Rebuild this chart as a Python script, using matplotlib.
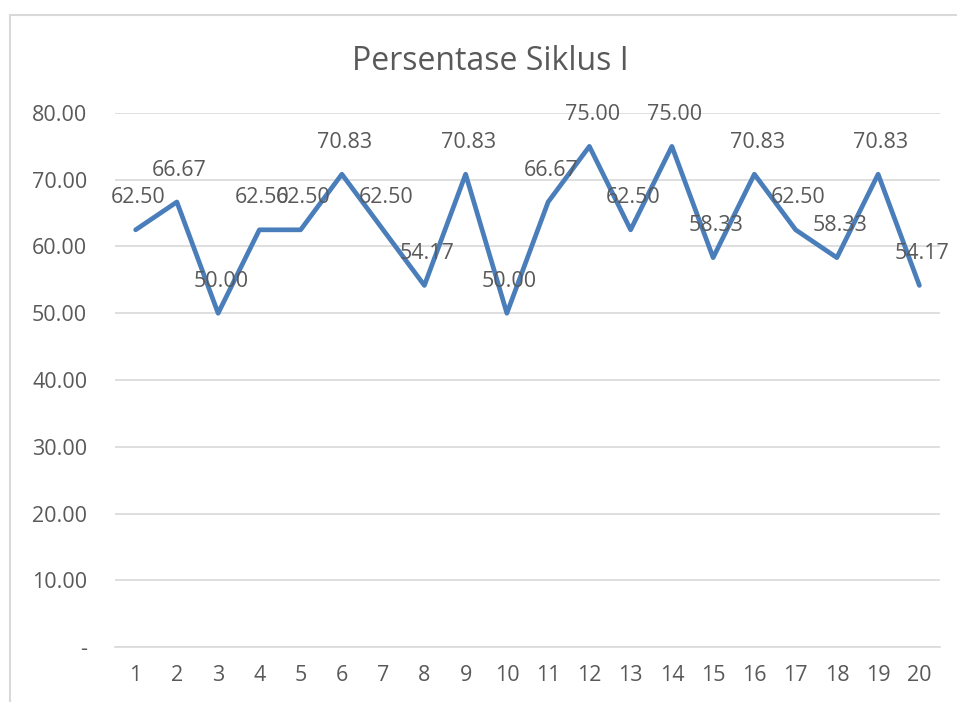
import matplotlib
matplotlib.use("Agg")
import matplotlib.pyplot as plt
from matplotlib.patches import Rectangle

categories = [str(i) for i in range(1, 21)]
values = [62.50, 66.67, 50.00, 62.50, 62.50, 70.83, 62.50, 54.17, 70.83, 50.00,
          66.67, 75.00, 62.50, 75.00, 58.33, 70.83, 62.50, 58.33, 70.83, 54.17]
yticks = [0, 10, 20, 30, 40, 50, 60, 70, 80]
ytick_labels = ["-", "10.00", "20.00", "30.00", "40.00", "50.00", "60.00", "70.00", "80.00"]
title = "Persentase Siklus I"

plt.rcParams['font.family'] = ['Open Sans', 'DejaVu Sans']
text_color = "#595959"
grid_color = "#d9d9d9"
line_color = "#4A7EBB"

W, H = 957, 702
fig = plt.figure(figsize=(W / 100, H / 100), dpi=100)
fig.patch.set_facecolor("white")

# chart border
fig.patches.append(Rectangle((10 / W, -0.1), 1.2, (H - 15) / H + 0.1, transform=fig.transFigure,
                             fill=False, edgecolor=grid_color, linewidth=1.5))

ax = fig.add_axes([115 / W, 55 / H, (940 - 115) / W, (647 - 113) / H])
x = list(range(len(categories)))
ax.plot(x, values, color=line_color, linewidth=3.4, solid_joinstyle='round', solid_capstyle='round',
        zorder=3)
ax.set_xlim(-0.5, len(categories) - 0.5)
ax.set_ylim(0, 80)
ax.set_yticks(yticks)
ax.set_yticklabels(ytick_labels)
ax.set_xticks(x)
ax.set_xticklabels(categories)
ax.grid(axis='y', color=grid_color, linewidth=1.2)
ax.set_axisbelow(True)
for s in ax.spines.values():
    s.set_visible(False)
ax.spines['bottom'].set_visible(True)
ax.spines['bottom'].set_color(grid_color)
ax.spines['bottom'].set_linewidth(1.2)
ax.tick_params(axis='both', length=0, labelsize=15.5, colors=text_color)
ax.tick_params(axis='y', pad=20)
ax.tick_params(axis='x', pad=13)

for xi, v in zip(x, values):
    ax.annotate(f"{v:.2f}", (xi, v), xytext=(2, 23), textcoords='offset points',
                ha='center', va='center', fontsize=15.5, color=text_color, zorder=4)

fig.text(490 / W, 1 - 61 / H, title, ha='center', va='center', fontsize=23, color=text_color)

fig.savefig("out.png", dpi=100)
